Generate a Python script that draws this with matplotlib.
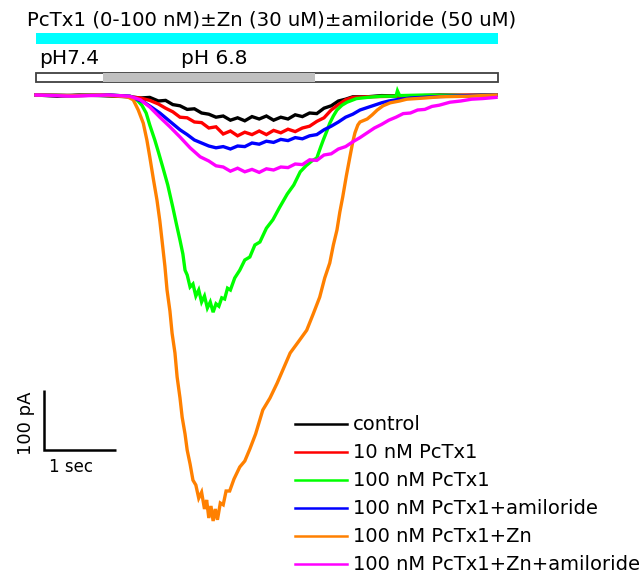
import matplotlib
matplotlib.use("Agg")
import matplotlib.pyplot as plt
from matplotlib.patches import Rectangle

plt.rcParams['font.family'] = ['DejaVu Sans']

# ---------------- data (time in s, current in pA) ----------------
labels = ["control", "10 nM PcTx1", "100 nM PcTx1", "100 nM PcTx1+amiloride",
          "100 nM PcTx1+Zn", "100 nM PcTx1+Zn+amiloride"]
colors = ["#000000", "#ff0000", "#00ff00", "#0000ff", "#ff8000", "#ff00ff"]

t_control = [0, 0.3, 0.6, 0.9, 1.1, 1.3, 1.45, 1.58, 1.7, 1.8, 1.9, 2.0, 2.1, 2.2, 2.3, 2.4, 2.5,
             2.6, 2.7, 2.8, 2.9, 3.0, 3.1, 3.2, 3.3, 3.4, 3.5, 3.6, 3.7, 3.8, 3.9, 4.0, 4.1, 4.2,
             4.3, 4.4, 4.6, 4.8, 5.2, 5.6, 6.0, 6.39]
i_control = [0, -2, 0, -1, -2, -3, -5, -4, -10, -9, -16, -18, -24, -23, -30, -32, -37,
             -35, -42, -38, -43, -36, -40, -35, -42, -37, -40, -33, -36, -30, -31, -22, -18, -10,
             -7, -3, -3, -1, -2, 0, -1, 0]

t_10nM = [0, 0.5, 1.0, 1.3, 1.45, 1.58, 1.7, 1.8, 1.9, 2.0, 2.1, 2.2, 2.3, 2.4, 2.5, 2.6, 2.7,
          2.8, 2.9, 3.0, 3.1, 3.2, 3.3, 3.4, 3.5, 3.6, 3.7, 3.8, 3.9, 4.0, 4.1, 4.2, 4.3, 4.4,
          4.6, 5.0, 5.5, 6.0, 6.39]
i_10nM = [0, -1, 0, -3, -5, -9, -15, -22, -28, -37, -38, -45, -46, -55, -53, -65, -60,
          -68, -62, -66, -60, -66, -59, -63, -57, -61, -55, -52, -44, -38, -25, -16, -8, -4,
          -3, -2, -1, 0, 0]

t_100nM = [0, 0.5, 1.0, 1.31, 1.4, 1.47, 1.53, 1.58, 1.65, 1.7, 1.76, 1.83, 1.9, 1.95, 2.0,
           2.04, 2.07, 2.1, 2.14, 2.18, 2.22, 2.26, 2.3, 2.34, 2.38, 2.42, 2.46, 2.5, 2.54, 2.58,
           2.62, 2.66, 2.7, 2.76, 2.83, 2.9, 2.97, 3.04, 3.11, 3.2, 3.29, 3.38, 3.49, 3.58, 3.67,
           3.75, 3.83, 3.9, 3.95, 3.99, 4.04, 4.08, 4.13, 4.18, 4.25, 4.32, 4.45, 4.6, 4.8, 5.0,
           5.02, 5.05, 5.4, 6.0, 6.39]
i_100nM = [0, -1, 0, -2, -8, -17, -30, -50, -75, -95, -120, -150, -187, -215, -242,
           -265, -292, -300, -320, -315, -335, -325, -345, -335, -355, -345, -362, -348, -352, -338,
           -340, -322, -325, -305, -292, -275, -270, -250, -245, -222, -208, -188, -165, -150, -128,
           -118, -110, -105, -88, -75, -60, -47, -35, -25, -17, -12, -6, -4, -2, -2,
           7, -1, 0, -1, 0]

t_amil = [0, 0.5, 1.0, 1.3, 1.5, 1.6, 1.72, 1.8, 1.9, 2.0, 2.1, 2.2, 2.3, 2.4, 2.5, 2.6, 2.7,
          2.8, 2.9, 3.0, 3.1, 3.2, 3.3, 3.4, 3.5, 3.6, 3.7, 3.8, 3.9, 4.0, 4.1, 4.2, 4.3, 4.4,
          4.5, 4.6, 4.7, 4.8, 4.9, 5.0, 5.2, 5.5, 6.0, 6.39]
i_amil = [0, -1, 0, -2, -12, -20, -30, -38, -48, -58, -66, -75, -80, -85, -88, -86, -90,
          -85, -86, -80, -82, -77, -79, -74, -76, -71, -73, -68, -66, -58, -52, -45, -37, -32,
          -25, -21, -17, -13, -10, -8, -5, -3, -1, 0]

t_zn = [0, 0.5, 0.9, 1.17, 1.27, 1.35, 1.42, 1.49, 1.54, 1.58, 1.63, 1.68, 1.72, 1.75, 1.79,
        1.82, 1.86, 1.89, 1.93, 1.96, 2.0, 2.03, 2.07, 2.10, 2.14, 2.18, 2.22, 2.26, 2.3, 2.34,
        2.37, 2.4, 2.43, 2.46, 2.49, 2.52, 2.56, 2.6, 2.64, 2.69, 2.75, 2.83, 2.9, 2.97, 3.05,
        3.15, 3.25, 3.35, 3.44, 3.53, 3.64, 3.76, 3.85, 3.94, 4.01, 4.08, 4.13, 4.18, 4.22,
        4.26, 4.31, 4.36, 4.4, 4.43, 4.47, 4.5, 4.6, 4.67, 4.74, 4.82, 4.92, 5.05, 5.15, 5.4,
        5.61, 6.0, 6.39]
i_zn = [0, -1, 0, -2, -3, -8, -25, -47, -75, -103, -140, -175, -210, -242, -285,
        -325, -360, -397, -430, -470, -505, -537, -565, -592, -615, -642, -650, -672, -662, -690,
        -675, -705, -685, -710, -690, -708, -680, -683, -660, -660, -640, -620, -610, -590, -565,
        -525, -505, -480, -455, -430, -412, -392, -365, -337, -305, -280, -250, -225, -195,
        -170, -135, -103, -78, -63, -50, -45, -40, -33, -25, -18, -13, -10, -7, -5,
        -3, -2, 0]

t_zn_amil = [0, 0.5, 1.0, 1.3, 1.45, 1.58, 1.72, 1.86, 2.0, 2.14, 2.28, 2.4, 2.5, 2.6, 2.7, 2.8,
             2.9, 3.0, 3.1, 3.2, 3.3, 3.4, 3.5, 3.6, 3.7, 3.8, 3.9, 4.0, 4.1, 4.2, 4.3, 4.4, 4.5,
             4.6, 4.7, 4.8, 4.9, 5.0, 5.1, 5.2, 5.3, 5.4, 5.5, 5.6, 5.75, 5.9, 6.05, 6.2, 6.39]
i_zn_amil = [0, -2, 0, -2, -8, -20, -37, -53, -70, -88, -103, -110, -118, -120, -127, -122,
             -128, -124, -129, -123, -125, -120, -121, -115, -116, -108, -109, -100, -98, -90, -86,
             -78, -71, -63, -55, -49, -42, -37, -31, -30, -25, -24, -19, -17, -12, -10, -7, -6, -4]

traces_t = [t_control, t_10nM, t_100nM, t_amil, t_zn, t_zn_amil]
traces_i = [i_control, i_10nM, i_100nM, i_amil, i_zn, i_zn_amil]

record_end = 6.39          # s
ph_low = [0.93, 3.875]     # s, pH 6.8 application
scale_t = 1.0              # s
scale_i = 100.0            # pA

title_text = "PcTx1 (0-100 nM)\u00b1Zn (30 uM)\u00b1amiloride (50 uM)"

# ---------------- layout helpers (pixel -> data) ----------------
X0, Y0 = 36, 95            # pixel position of t=0, I=0
PX_PER_S = 72.0
PX_PER_PA = 60.0 / 100.0

W, H = 644, 575
fig = plt.figure(figsize=(W / 100, H / 100), dpi=100)
ax = fig.add_axes([0, 0, 1, 1])
ax.set_xlim(-X0 / PX_PER_S, (W - X0) / PX_PER_S)
ax.set_ylim(-(H - Y0) / PX_PER_PA, Y0 / PX_PER_PA)
ax.axis('off')


def P(px, py):
    return (px - X0) / PX_PER_S, -(py - Y0) / PX_PER_PA


def dy(pxh):
    return pxh / PX_PER_PA


# traces
for t, i, c in zip(traces_t, traces_i, colors):
    ax.plot(t, i, color=c, lw=2.4, solid_joinstyle='miter')

bar_end = record_end + 0.02
# drug bar (cyan)
_, ytop = P(36, 33)
ax.add_patch(Rectangle((0, ytop - dy(11)), bar_end, dy(11),
                       facecolor="#00ffff", edgecolor="none"))
# pH bar
_, yb = P(36, 82)
ax.add_patch(Rectangle((0, yb), bar_end, dy(9), facecolor="white",
                       edgecolor="#404040", lw=1.3))
ax.add_patch(Rectangle((ph_low[0], yb), ph_low[1] - ph_low[0], dy(9),
                       facecolor="#c0c0c0", edgecolor="none", zorder=3))

ax.text(*P(27, 20), title_text, fontsize=14.2, ha='left', va='center')
ax.text(*P(39, 59), "pH7.4", fontsize=14.5, ha='left', va='center')
ax.text(*P(181, 59), "pH 6.8", fontsize=14.5, ha='left', va='center')

# scale bars
sx, sy = P(44, 450)
ax.plot([sx, sx, sx + scale_t], [sy + scale_i, sy, sy], color='black', lw=1.8,
        solid_joinstyle='miter', solid_capstyle='butt')
ax.text(*P(71, 467), "1 sec", fontsize=12, ha='center', va='center')
ax.text(*P(26, 423), "100 pA", fontsize=13, ha='center', va='center', rotation=90)

# legend
rows = [424, 452, 480, 508, 536, 564]
for lab, c, ry in zip(labels, colors, rows):
    xa, ya = P(295, ry)
    xb, _ = P(347, ry)
    ax.plot([xa, xb], [ya, ya], color=c, lw=1.8)
    ax.text(*P(353, ry), lab, fontsize=14, ha='left', va='center')

fig.savefig("out.png", dpi=100)
